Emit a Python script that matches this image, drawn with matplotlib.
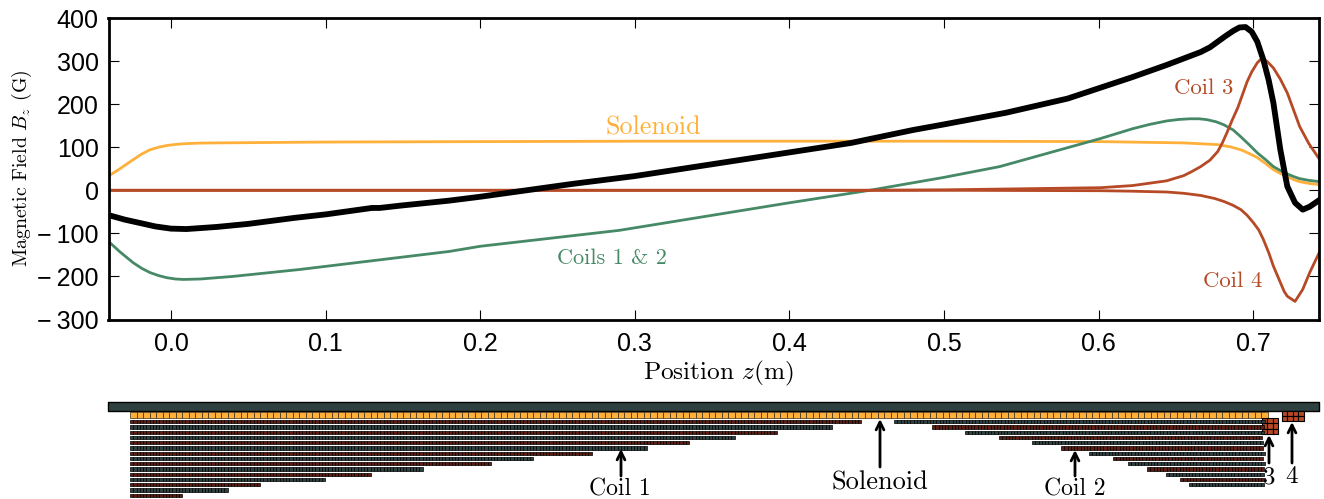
import numpy as np
import matplotlib
matplotlib.use("Agg")
import matplotlib.pyplot as plt

plt.rcParams['mathtext.fontset'] = 'cm'
plt.rcParams['font.family'] = ['Liberation Sans', 'DejaVu Sans']

# field curves, values
z_total = [-0.042, -0.03, -0.02, -0.01, 0.0, 0.01, 0.03, 0.05, 0.08, 0.10, 0.12, 0.13, 0.135, 0.15, 0.18, 0.20, 0.22,
           0.24, 0.26, 0.30, 0.34, 0.38, 0.40, 0.44, 0.48, 0.50, 0.54, 0.58, 0.601, 0.622, 0.644, 0.666, 0.672, 0.677,
           0.682, 0.687, 0.691, 0.695, 0.699, 0.7026, 0.7065, 0.71, 0.713, 0.7175, 0.722, 0.727, 0.732, 0.7365, 0.743]
b_total = [-56, -68, -76, -84, -89, -90, -85, -78, -64, -56, -46, -41, -41, -35, -24, -15, -5,
           5, 15, 33, 55, 77, 88, 110, 140, 153, 180, 213, 238, 263, 291, 321, 332, 345,
           358, 370, 378, 379, 368, 345, 303, 255, 203, 94, 9, -29, -45, -38, -22]

z_solenoid = [-0.04, -0.033, -0.0245, -0.019, -0.0136, -0.008, -0.0026, 0.003, 0.008, 0.018, 0.03, 0.1, 0.3, 0.5,
              0.601, 0.655, 0.677, 0.685, 0.692, 0.697, 0.7026, 0.708, 0.713, 0.7175, 0.722, 0.726, 0.73, 0.736, 0.743]
b_solenoid = [34, 50, 71, 84, 94, 100, 104, 106.5, 108, 109.5, 110, 112, 114, 114,
              113, 110, 106, 101, 94, 86, 76, 62, 48, 39, 32, 25, 20, 16, 13]

z_coils12 = [-0.04, -0.033, -0.0245, -0.019, -0.0136, -0.008, -0.0026, 0.003, 0.008, 0.019, 0.04, 0.083, 0.18, 0.20,
             0.29, 0.40, 0.452, 0.50, 0.536, 0.601, 0.612, 0.622, 0.633, 0.644, 0.652, 0.659, 0.665, 0.67, 0.676,
             0.681, 0.687, 0.692, 0.697, 0.7026, 0.708, 0.713, 0.7175, 0.722, 0.726, 0.73, 0.736, 0.743]
b_coils12 = [-120, -143, -168, -181, -191, -198, -203, -206, -207, -206, -200, -184, -142, -130,
             -93, -29, 0, 30, 55, 120, 132, 143, 153, 161, 164.5, 166, 166, 164, 159,
             152, 140, 124, 107, 87, 71, 55, 46, 38, 32, 27, 23, 20]

z_coil3 = [-0.04, 0.3, 0.45, 0.5, 0.601, 0.622, 0.644, 0.655, 0.66, 0.666, 0.672, 0.677, 0.68, 0.683, 0.686, 0.69,
           0.693, 0.696, 0.699, 0.7026, 0.7045, 0.7065, 0.709, 0.713, 0.7175, 0.722, 0.726, 0.73, 0.736, 0.743]
b_coil3 = [0, 0, 0, 1, 6, 11, 22, 34, 43, 55, 70, 90, 110, 134, 160, 192,
           222, 252, 275, 296, 303, 305, 299, 284, 258, 226, 187, 148, 108, 71]

z_coil4 = [-0.04, 0.3, 0.5, 0.601, 0.62, 0.644, 0.655, 0.666, 0.675, 0.681, 0.687, 0.692, 0.696, 0.70, 0.7035, 0.7065,
           0.71, 0.713, 0.7175, 0.72, 0.722, 0.727, 0.732, 0.7365, 0.743]
b_coil4 = [0, 0, 0, -1, -2, -4, -7, -12, -19, -26, -35, -45, -58, -75, -92, -114,
           -145, -176, -214, -235, -246, -258, -230, -191, -142]

# winding diagram, pixel extents of each layer
coil1_ends = [861, 832, 775, 732, 689, 646, 589, 532, 489, 422, 369, 322, 260, 227, 179]
coil2_starts = [894, 932, 965, 999, 1032, 1061, 1089, 1113, 1128, 1147, 1166, 1180, 1189]

black = '#000000'
orange = '#ffb03b'
green = '#468966'
rust = '#b64926'
slate = '#2f4040'
wire_red = '#5e1c10'

fig = plt.figure(figsize=(13.24, 4.99), dpi=100)
ax = fig.add_axes([108.5 / 1324, 1 - 319.5 / 499, (1319 - 108.5) / 1324, (319.5 - 18) / 499])

ax.plot(z_solenoid, b_solenoid, color=orange, lw=2)
ax.plot(z_coils12, b_coils12, color=green, lw=2)
ax.plot(z_coil3, b_coil3, color=rust, lw=2)
ax.plot(z_coil4, b_coil4, color=rust, lw=2)
ax.plot(z_total, b_total, color=black, lw=4.2)

ax.set_xlim(-0.0404, 0.7425)
ax.set_ylim(-300, 400)
ax.set_xticks(np.arange(0, 0.8, 0.1))
ax.set_xticklabels(['0.0', '0.1', '0.2', '0.3', '0.4', '0.5', '0.6', '0.7'])
ax.set_yticks(np.arange(-300, 500, 100))
ax.set_yticklabels(['\u2212\u2009300', '\u2212\u2009200', '\u2212\u2009100', '0', '100', '200', '300', '400'])
ax.tick_params(axis='both', direction='in', top=True, right=True, length=7, width=0.8, labelsize=18)
ax.tick_params(axis='x', pad=9)
ax.tick_params(axis='y', pad=7)
for spine in ax.spines.values():
    spine.set_linewidth(2)

serif = dict(family='cmr10')
ax.set_xlabel('Position $z$(m)', fontsize=18.2, x=0.504, labelpad=2, **serif)
ax.set_ylabel('Magnetic Field $B_z$ (G)', fontsize=14.3, labelpad=2, **serif)

ax.text(0.312, 146, 'Solenoid', color=orange, fontsize=18.8, ha='center', va='center', **serif)
ax.text(0.285, -157, 'Coils 1 & 2', color=green, fontsize=16, ha='center', va='center', **serif)
ax.text(0.668, 238, 'Coil 3', color=rust, fontsize=16.4, ha='center', va='center', **serif)
ax.text(0.687, -210, 'Coil 4', color=rust, fontsize=16.4, ha='center', va='center', **serif)

# lower panel, in figure pixels
ax2 = fig.add_axes([0, 0, 1, 104 / 499])
ax2.set_xlim(0, 1324)
ax2.set_ylim(499, 395)
ax2.axis('off')

ax2.broken_barh([(107.5, 1211)], (401.5, 9.5), facecolor=slate, edgecolor=black, lw=1)

pitch = 6.5
cells = [(x, pitch) for x in np.arange(130, 1262, pitch)]
ax2.broken_barh(cells, (411.5, 6.5), facecolor=orange, edgecolor='#3a2a10', lw=0.5)

# coil 3 and 4 blocks
for row in range(3):
    ax2.broken_barh([(1262 + i * 5.4, 5.4) for i in range(3)], (418 + row * 5.4, 5.4),
                    facecolor=rust, edgecolor=black, lw=0.8)
for row in range(2):
    ax2.broken_barh([(1282 + i * 5.4, 5.4) for i in range(4)], (411 + row * 5, 5),
                    facecolor=rust, edgecolor=black, lw=0.8)

wire = 3.25
row_top = 420
row_pitch = 5.25
for i, end in enumerate(coil1_ends):
    col = wire_red if i % 2 == 0 else slate
    ax2.broken_barh([(x, wire) for x in np.arange(130, end, wire)], (row_top + i * row_pitch, 3.4),
                    facecolor=col, edgecolor=black, lw=0.5)
for i, start in enumerate(coil2_starts):
    col = slate if i % 2 == 0 else wire_red
    ax2.broken_barh([(x, wire) for x in np.arange(start, 1262, wire)], (row_top + i * row_pitch, 3.4),
                    facecolor=col, edgecolor=black, lw=0.5)

labels = ['Coil 1', 'Solenoid', 'Coil 2', '3', '4']
label_x = [620, 880, 1075, 1269, 1291]
label_y = [489, 483, 489, 477, 477]
label_size = [17, 19, 17, 18, 18]
arrow_x = [621, 880, 1075, 1269, 1292]
arrow_from = [476, 467, 476, 463, 463]
arrow_to = [449, 419, 450, 435, 422]
for name, lx, ly, fs, ax_, y0, y1 in zip(labels, label_x, label_y, label_size, arrow_x, arrow_from, arrow_to):
    ax2.text(lx, ly, name, fontsize=fs, ha='center', va='center', color=black, **serif)
    ax2.annotate('', xy=(ax_, y1), xytext=(ax_, y0),
                 arrowprops=dict(arrowstyle='->', color=black, lw=2, mutation_scale=14, shrinkA=0, shrinkB=0))

fig.savefig('out.png', dpi=100)
